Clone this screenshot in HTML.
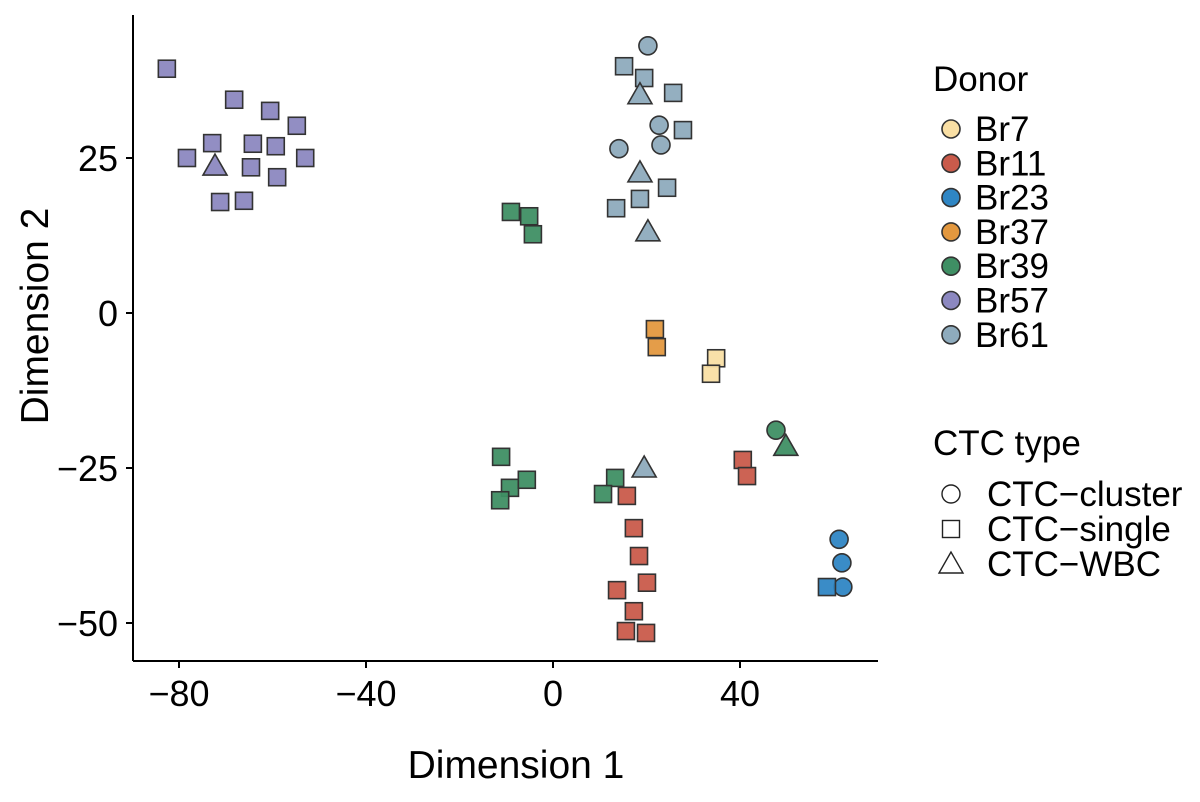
<!DOCTYPE html>
<html><head><meta charset="utf-8"><style>
body{margin:0;background:#fff}
svg{font-family:"Liberation Sans",sans-serif}
</style></head><body>
<svg width="1200" height="797" id="chart"></svg>
<script>
const donors=["Br7","Br11","Br23","Br37","Br39","Br57","Br61"];
const donorColors=["#f9dfa4","#c95b4b","#2f86c4","#e3983f","#3f8f64","#8c88c0","#8eabbd"];
const types=["CTC-cluster","CTC-single","CTC-WBC"];
const xTicks=[-80,-40,0,40];
const yTicks=[-50,-25,0,25];
const pointDonor=[5,5,5,5,5,5,5,5,5,5,5,5,5,5, 6,6,6,6,6,6,6,6,6,6,6,6,6,6,6, 4,4,4,4,4,4,4,4,4,4,4, 1,1,1,1,1,1,1,1,1,1, 2,2,2,2, 3,3, 0,0];
const pointType=[1,1,1,1,1,1,1,1,1,1,1,1,1,2, 0,0,0,0,1,1,1,1,1,1,1,2,2,2,2, 1,1,1,1,1,1,1,1,1,0,2, 1,1,1,1,1,1,1,1,1,1, 0,0,0,1, 1,1, 1,1];
const pointX=[-82.6,-68.2,-60.5,-54.8,-72.9,-64.2,-59.3,-78.3,-53.0,-64.6,-59.0,-71.2,-66.1,-72.3,
 20.3,22.7,14.1,23.1,15.2,19.5,25.7,27.8,24.4,18.6,13.5,18.6,18.6,20.3,19.5,
 -9.0,-5.1,-4.3,-11.1,-9.2,-5.6,-11.3,13.3,10.7,47.7,49.8,
 15.8,17.3,18.4,20.1,13.7,17.3,15.6,19.9,40.6,41.5,
 61.2,61.8,62.0,58.6, 21.8,22.2, 34.9,33.8];
const pointY=[39.4,34.4,32.6,30.2,27.4,27.3,26.9,25.0,25.0,23.5,21.9,17.9,18.1,23.7,
 43.1,30.3,26.5,27.1,39.8,37.9,35.5,29.5,20.2,18.4,16.9,35.2,22.6,13.1,-25.0,
 16.3,15.6,12.7,-23.2,-28.2,-26.9,-30.2,-26.6,-29.2,-18.9,-21.5,
 -29.5,-34.7,-39.2,-43.5,-44.7,-48.1,-51.3,-51.6,-23.7,-26.3,
 -36.5,-40.3,-44.2,-44.2, -2.6,-5.5, -7.3,-9.8];
const NS="http://www.w3.org/2000/svg";
const svg=document.getElementById('chart');
const sx=v=>553+v*4.675, sy=v=>313-v*6.2;
function el(t,a,p){const e=document.createElementNS(NS,t);for(const k in a)e.setAttribute(k,a[k]);(p||svg).appendChild(e);return e;}
function marker(type,cx,cy,fill,s){
  let e;
  if(type===0)e=el('circle',{cx,cy,r:9*s});
  else if(type===1)e=el('rect',{x:cx-8.5*s,y:cy-8.5*s,width:17*s,height:17*s});
  else e=el('polygon',{points:`${cx},${cy-12*s} ${cx-12*s},${cy+9*s} ${cx+12*s},${cy+9*s}`});
  e.setAttribute('fill',fill);e.setAttribute('stroke','#333');e.setAttribute('stroke-width',1.6);
  return e;
}
const ax=el('line',{x1:133,y1:661,x2:878,y2:661,stroke:'#000','stroke-width':2});

const ay=el('line',{x1:133,y1:15,x2:133,y2:661,stroke:'#000','stroke-width':2});

xTicks.forEach(v=>{el('line',{x1:sx(v),x2:sx(v),y1:661,y2:668,stroke:'#000','stroke-width':2});
 const t=el('text',{x:sx(v),y:706,'font-size':36,'text-anchor':'middle'});t.textContent=String(v).replace('-','\u2212');
 });
yTicks.forEach(v=>{el('line',{x1:126,x2:133,y1:sy(v),y2:sy(v),stroke:'#000','stroke-width':2});
 const t=el('text',{x:118,y:sy(v)+13,'font-size':36,'text-anchor':'end'});t.textContent=String(v).replace('-','\u2212');
 });
let t=el('text',{x:516,y:778,'font-size':39,'text-anchor':'middle'});t.textContent='Dimension 1';

t=el('text',{x:0,y:0,'font-size':39,'text-anchor':'middle',transform:'translate(48,316) rotate(-90)'});t.textContent='Dimension 2';

pointX.forEach((x,i)=>{const m=marker(pointType[i],sx(x),sy(pointY[i]),donorColors[pointDonor[i]],1);
 m.setAttribute('fill-opacity',0.95);
 
 });
t=el('text',{x:933,y:91,'font-size':35});t.textContent='Donor';

donors.forEach((d,i)=>{const y=129+i*34.3;
 const m=marker(0,951,y,donorColors[i],1);
 const l=el('text',{x:975,y:y+12,'font-size':35});l.textContent=d;
 });
t=el('text',{x:933,y:455,'font-size':35});t.textContent='CTC type';

types.forEach((d,i)=>{const y=494+i*35;
 const m=marker(i,951,y,'#fff',1);m.setAttribute('stroke','#222');m.setAttribute('stroke-width',1.4);
 
 const l=el('text',{x:987,y:y+12,'font-size':35});l.textContent=d.replace('-','\u2212');
 });
</script>
</body></html>
